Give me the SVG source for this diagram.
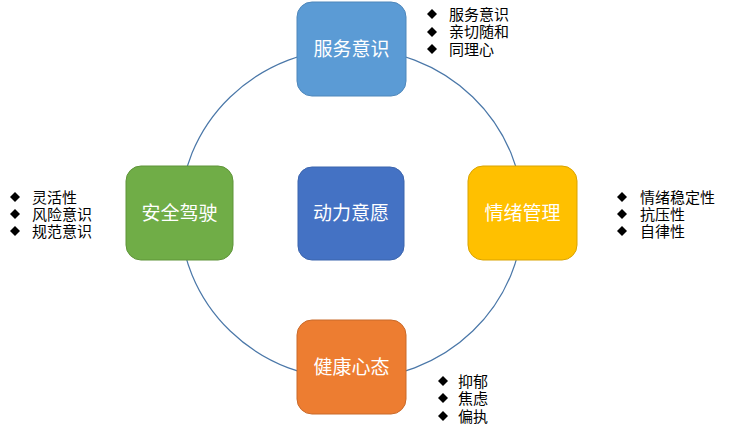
<svg xmlns="http://www.w3.org/2000/svg" xmlns:xlink="http://www.w3.org/1999/xlink" width="730" height="434" viewBox="0 0 730 434">
<style>
.box{stroke-width:1}
.lbl{font-family:"Noto Sans CJK SC","Microsoft YaHei",sans-serif;font-size:19px;fill:#ffffff;text-anchor:middle}
.li{font-family:"Noto Sans CJK SC","Microsoft YaHei",sans-serif;font-size:15px;fill:#000000}
.conn{fill:none;stroke:#4A77A8;stroke-width:1.2}
</style>
<defs>
<polygon id="dia" points="0,-5 5,0 0,5 -5,0" fill="#000"/>
</defs>
<rect width="730" height="434" fill="#ffffff"/>
<g id="connectors">
<ellipse class="conn" cx="351.5" cy="214" rx="171.5" ry="165.5"/>
</g>
<g id="node-center">
<rect class="box" x="298" y="167" width="106" height="93" rx="14" fill="#4472C4" stroke="#3B64AD"/>
<text class="lbl" x="351" y="220">动力意愿</text>
</g>
<g id="node-top">
<rect class="box" x="297" y="2" width="109" height="94" rx="15" fill="#5B9BD5" stroke="#4E87BB"/>
<text class="lbl" x="351.5" y="56">服务意识</text>
</g>
<g id="node-left">
<rect class="box" x="126" y="166" width="107" height="94" rx="15" fill="#70AD47" stroke="#5F9439"/>
<text class="lbl" x="179.5" y="220">安全驾驶</text>
</g>
<g id="node-right">
<rect class="box" x="468" y="166" width="109" height="94" rx="15" fill="#FFC000" stroke="#D9A300"/>
<text class="lbl" x="522.5" y="220">情绪管理</text>
</g>
<g id="node-bottom">
<rect class="box" x="297" y="320" width="109" height="94" rx="15" fill="#ED7D31" stroke="#C96A2A"/>
<text class="lbl" x="351.5" y="374">健康心态</text>
</g>
<g id="list-top">
<use xlink:href="#dia" x="432" y="14"/>
<use xlink:href="#dia" x="432" y="32"/>
<use xlink:href="#dia" x="432" y="49"/>
<text class="li"><tspan x="449" y="19.5">服务意识</tspan><tspan x="449" y="37">亲切随和</tspan><tspan x="449" y="54.5">同理心</tspan></text>
</g>
<g id="list-left">
<use xlink:href="#dia" x="15" y="197"/>
<use xlink:href="#dia" x="15" y="214"/>
<use xlink:href="#dia" x="15" y="231"/>
<text class="li"><tspan x="32" y="202.5">灵活性</tspan><tspan x="32" y="219.5">风险意识</tspan><tspan x="32" y="236.5">规范意识</tspan></text>
</g>
<g id="list-right">
<use xlink:href="#dia" x="622" y="197"/>
<use xlink:href="#dia" x="622" y="214"/>
<use xlink:href="#dia" x="622" y="231"/>
<text class="li"><tspan x="640" y="202.5">情绪稳定性</tspan><tspan x="640" y="219.5">抗压性</tspan><tspan x="640" y="236.5">自律性</tspan></text>
</g>
<g id="list-bottom">
<use xlink:href="#dia" x="443" y="381"/>
<use xlink:href="#dia" x="443" y="398"/>
<use xlink:href="#dia" x="443" y="416"/>
<text class="li"><tspan x="458" y="386.5">抑郁</tspan><tspan x="458" y="403.5">焦虑</tspan><tspan x="458" y="421.5">偏执</tspan></text>
</g>
</svg>
